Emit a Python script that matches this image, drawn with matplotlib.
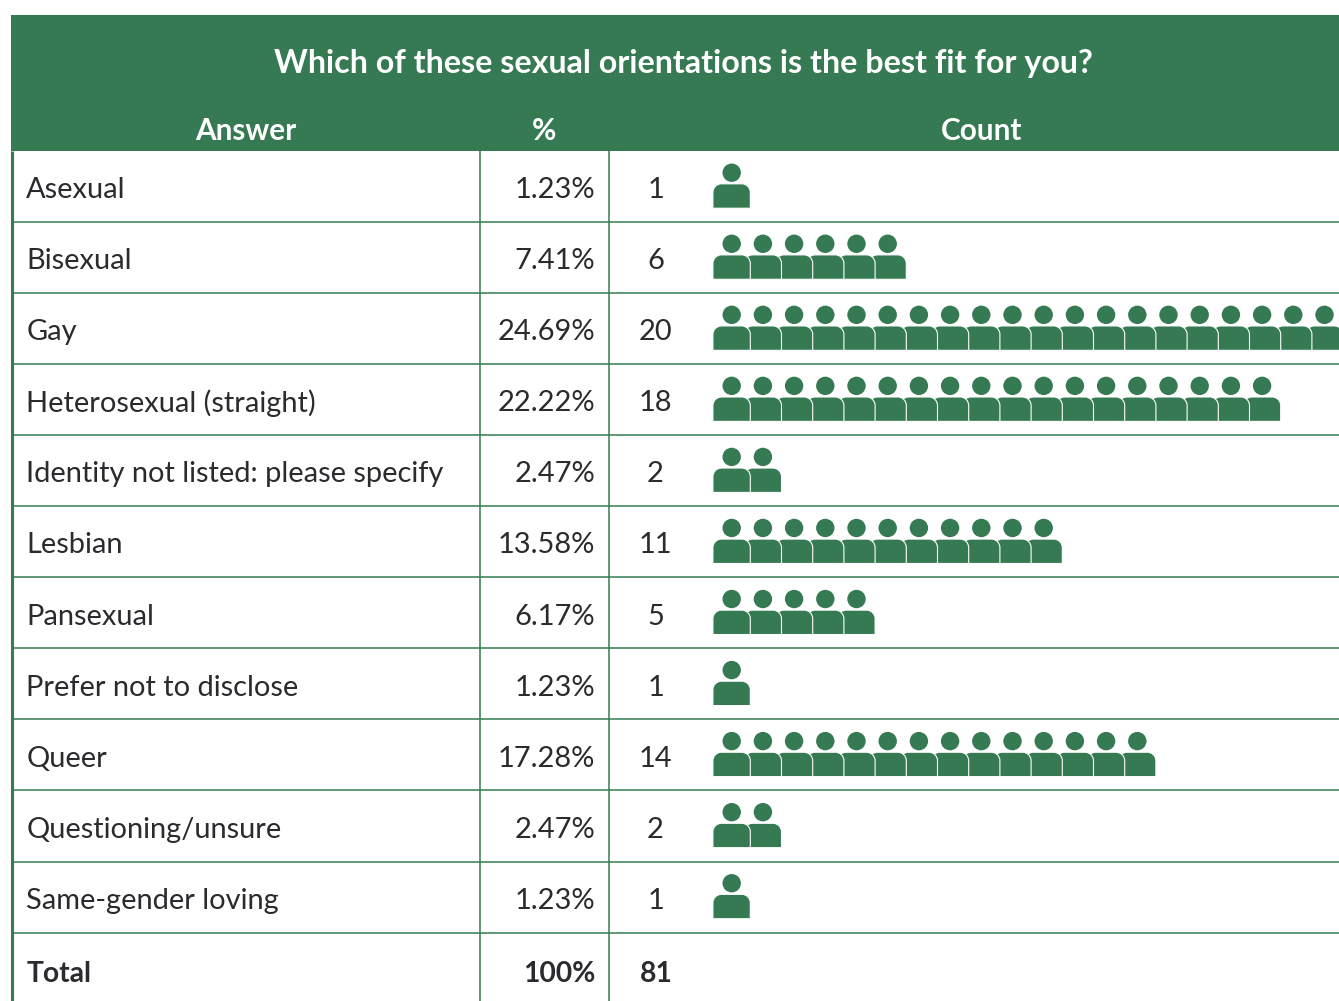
import matplotlib
matplotlib.use("Agg")
import matplotlib.pyplot as plt
from matplotlib.patches import Circle, PathPatch, Rectangle
from matplotlib.path import Path

answers = ["Asexual", "Bisexual", "Gay", "Heterosexual (straight)",
           "Identity not listed: please specify", "Lesbian", "Pansexual",
           "Prefer not to disclose", "Queer", "Questioning/unsure",
           "Same-gender loving"]
percents = ["1.23%", "7.41%", "24.69%", "22.22%", "2.47%", "13.58%",
            "6.17%", "1.23%", "17.28%", "2.47%", "1.23%"]
counts = [1, 6, 20, 18, 2, 11, 5, 1, 14, 2, 1]
title = "Which of these sexual orientations is the best fit for you?"
headers = ["Answer", "%", "Count"]
total = ["Total", "100%", "81"]

GREEN = "#357a52"
INK = "#2b2a2e"
W, H = 1339, 1001
FONT = "Lato"

fig = plt.figure(figsize=(W / 100, H / 100), dpi=100, facecolor="white")
ax = fig.add_axes([0, 0, 1, 1])
ax.set_xlim(0, W)
ax.set_ylim(H, 0)
ax.axis("off")

TOP, HEAD_BOTTOM, ROW_H = 15, 151, 71.05
LEFT, COL1, COL2 = 11, 479.7, 609.3
PICT_X, STEP = 712.9, 31.2

ax.add_patch(Rectangle((LEFT, TOP), W - LEFT, HEAD_BOTTOM - TOP, fc=GREEN, ec="none", zorder=3))
ax.text(683, 64, title, color="white", ha="center", va="center", fontsize=23.2,
        fontweight="bold", family=FONT, zorder=4)
for x, s in zip([246, 544, 982], headers):
    ax.text(x, 130.5, s, color="white", ha="center", va="center", fontsize=21.4,
            fontweight="bold", family=FONT, zorder=4)

n = len(answers)
rows_end = HEAD_BOTTOM + ROW_H * n
for i in range(1, n + 1):
    y = HEAD_BOTTOM + ROW_H * i
    ax.plot([LEFT, W], [y, y], color=GREEN, lw=1.1, zorder=2, solid_capstyle="butt")
ax.plot([12.3, 12.3], [HEAD_BOTTOM, H], color=GREEN, lw=2.2, zorder=2, solid_capstyle="butt")
for x in (COL1, COL2):
    ax.plot([x, x], [HEAD_BOTTOM, H], color=GREEN, lw=1.1, zorder=2, solid_capstyle="butt")


def body_path(x0, y0, w, h, r):
    k = 0.5523 * r
    x1, y1 = x0 + w, y0 + h
    verts = [(x0, y1), (x0, y0 + r),
             (x0, y0 + r - k), (x0 + r - k, y0), (x0 + r, y0),
             (x1 - r, y0),
             (x1 - r + k, y0), (x1, y0 + r - k), (x1, y0 + r),
             (x1, y1), (x0, y1)]
    codes = [Path.MOVETO, Path.LINETO, Path.CURVE4, Path.CURVE4, Path.CURVE4,
             Path.LINETO, Path.CURVE4, Path.CURVE4, Path.CURVE4,
             Path.LINETO, Path.CLOSEPOLY]
    return Path(verts, codes)


for r, (a, p, c) in enumerate(zip(answers, percents, counts)):
    cy = HEAD_BOTTOM + ROW_H * (r + 0.5)
    ty = cy + 1.2
    ax.text(26.4, ty, a, color=INK, ha="left", va="center_baseline", fontsize=20.9, family=FONT)
    ax.text(595, ty, p, color=INK, ha="right", va="center_baseline", fontsize=20.9, family=FONT)
    ax.text(655.5, ty, str(c), color=INK, ha="center", va="center_baseline", fontsize=20.9, family=FONT)
    for i in range(c - 1, -1, -1):
        x = PICT_X + STEP * i
        z = 10 + (c - i)
        ax.add_patch(Circle((x + 18.8, cy - 13.8), 9.2, fc=GREEN, ec="none", zorder=z))
        ax.add_patch(PathPatch(body_path(x, cy - 2.7, 37.4, 24.4, 8.5), fc=GREEN, ec="white", lw=0.8, zorder=z))

cy = rows_end + 39
for x, s, ha in zip([26.4, 595, 656], total, ["left", "right", "center"]):
    ax.text(x, cy, s, color=INK, ha=ha, va="center_baseline", fontsize=20.3, fontweight="bold", family=FONT)

fig.savefig("out.png", dpi=100)
